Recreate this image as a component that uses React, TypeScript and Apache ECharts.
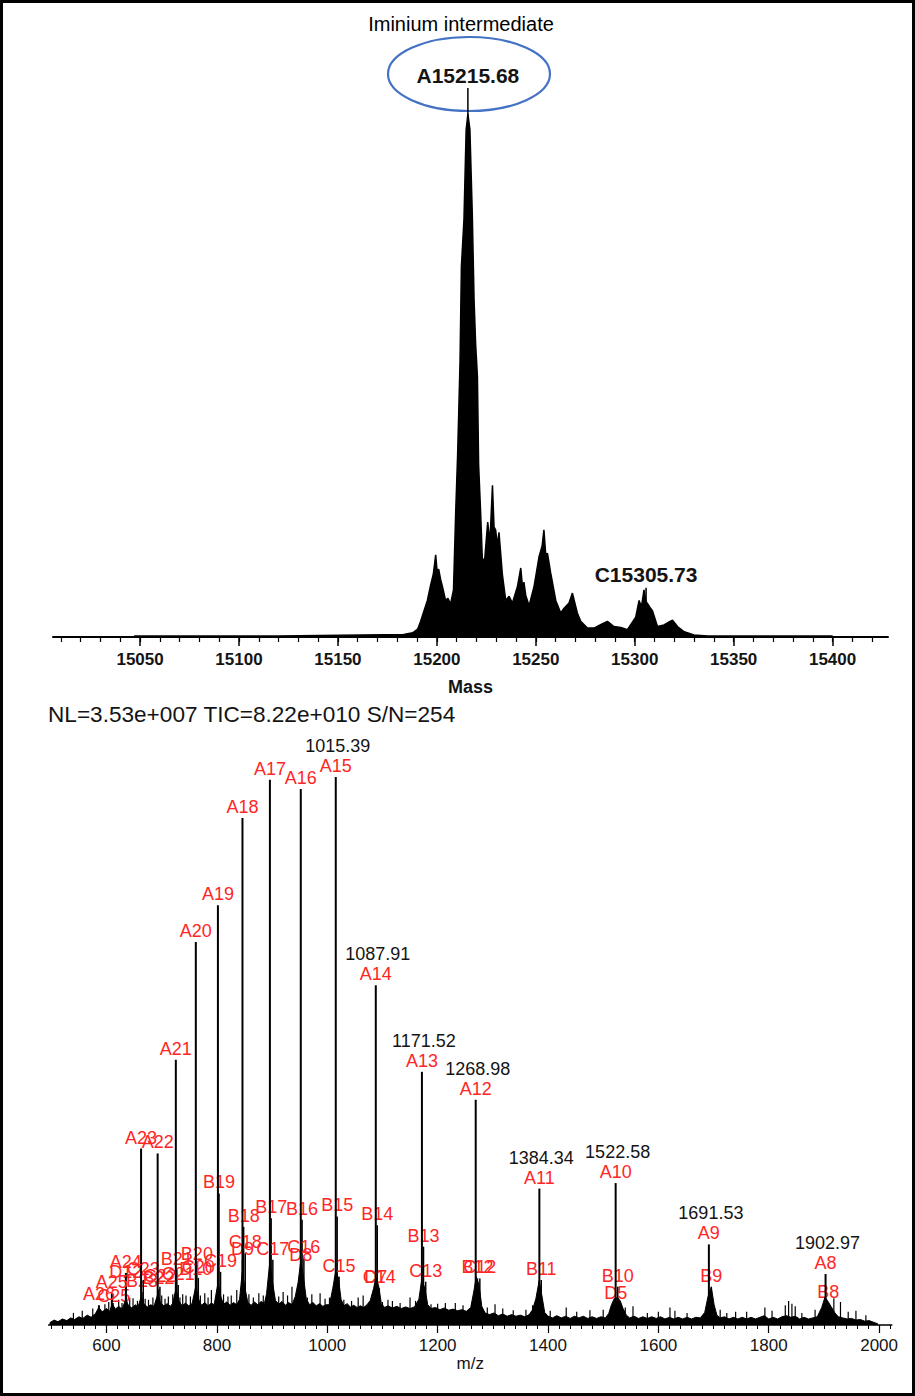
import React, { useEffect, useRef } from 'react';
import * as echarts from 'echarts';

const FONT = '"Liberation Sans", Arial, Helvetica, sans-serif';
const RED = '#ff2626';
const INK = '#141414';

// ---------- Top panel: deconvoluted mass spectrum ----------
const massTickLabels = [15050, 15100, 15150, 15200, 15250, 15300, 15350, 15400];
const massAxisRange = [15006, 15428];
const massMinorStep = 10;

// [mass, relative intensity] (apex of main peak = 100)
const massProfile: [number, number][] = [
  [15047, 0.2], [15120, 0.2], [15183.2, 0.5], [15187.8, 0.8], [15190.3, 1.5], [15191.8, 3],
  [15195.2, 7], [15196.9, 10], [15198.2, 12], [15199.4, 15.7], [15200.2, 12.2], [15200.9, 13], [15201.9, 11], [15203.1, 9.2], [15204.4, 7],
  [15205.6, 7.4], [15206.9, 6.3], [15208.4, 9], [15209.5, 23.7], [15210.5, 35], [15211.7, 52.5], [15212.4, 70.9],
  [15213.7, 79.9], [15214.8, 97], [15215.68, 100], [15216.7, 97.1], [15217.9, 81], [15218.8, 64.5],
  [15219.6, 56], [15220.5, 49.8], [15221.1, 33], [15222.1, 24], [15223.0, 14.7], [15224.2, 15],
  [15225.7, 22], [15226.8, 18], [15228.1, 29], [15228.9, 21], [15229.7, 20.5], [15230.6, 17.5], [15231.4, 20], [15233.1, 12], [15234.8, 7],
  [15236.5, 7.8], [15238.2, 6.5], [15240.7, 9.6], [15242.4, 13.2], [15243.3, 9.5], [15244.0, 10.5], [15244.9, 8], [15246.6, 6],
  [15249.1, 9.6], [15251.6, 15.3], [15253.2, 17.4], [15254.1, 20.5], [15255.0, 15.8], [15255.9, 16], [15257.5, 12.3], [15260.1, 7],
  [15262.6, 4.6], [15264.3, 5.5], [15266.8, 6.5], [15268.5, 8.4], [15271.0, 4.6], [15272.7, 3],
  [15276.1, 1.7], [15279.4, 1.7], [15283.0, 2.4], [15286.2, 3], [15289.5, 2], [15293.0, 1.8], [15296.3, 1.4], [15300.5, 3.8],
  [15302.2, 7], [15303.4, 5.8], [15304.7, 9], [15305.6, 6.9], [15306.4, 6.4], [15307.8, 5.6], [15309.0, 5], [15311.5, 2], [15314.8, 2.3],
  [15317.4, 2.9], [15319.1, 3.2], [15321.6, 2], [15325.0, 1], [15330.0, 0.4], [15336.8, 0.2], [15400, 0.2],
];

const topPeakLabels = ['A15215.68', 'C15305.73'];
const topPeakMass = [15215.68, 15305.73];
const topPeakHeight = [105, 9.4];

// ---------- Bottom panel: m/z spectrum ----------
const mzTickLabels = [600, 800, 1000, 1200, 1400, 1600, 1800, 2000];
const mzAxisRange = [495, 2023];
const mzMinorStep = 20;

const aNames = ['A8', 'A9', 'A10', 'A11', 'A12', 'A13', 'A14', 'A15', 'A16', 'A17', 'A18', 'A19', 'A20', 'A21', 'A22', 'A23', 'A24', 'A25', 'A26'];
const aMz = [1902.97, 1691.53, 1522.58, 1384.34, 1268.98, 1171.52, 1087.91, 1015.39, 951.99, 896.05, 846.32, 801.83, 761.79, 725.56, 692.63, 662.56, 634.99, 609.63, 586.2];
const aInt = [9.3, 14.7, 25.9, 24.9, 41.1, 46.2, 62.0, 100, 97.8, 99.5, 92.5, 76.6, 69.9, 48.4, 31.3, 32.2, 9.5, 5.8, 3.6];
const aMzText = ['1902.97', '1691.53', '1522.58', '1384.34', '1268.98', '1171.52', '1087.91', '1015.39', '', '', '', '', '', '', '', '', '', '', ''];

const minorNames = ['B8', 'B9', 'B10', 'B11', 'B12', 'B13', 'B14', 'B15', 'B16', 'B17', 'B18', 'B19', 'B20', 'B21', 'B22', 'B23',
  'C12', 'C13', 'C14', 'C15', 'C16', 'C17', 'C18', 'C19', 'C20', 'C21', 'C22', 'C23', 'C25',
  'D5', 'D7', 'D8', 'D9', 'D10', 'D12'];
const minorMz = [1907.76, 1695.9, 1526.41, 1387.73, 1272.17, 1174.39, 1090.58, 1017.94, 954.38, 898.3, 848.45, 803.85, 763.71, 727.39, 694.37, 664.22,
  1276.48, 1178.37, 1094.27, 1021.39, 957.62, 901.34, 851.33, 806.57, 766.29, 729.85, 696.72, 666.47, 613.2,
  1522.59, 1087.85, 951.99, 846.33, 761.89, 634.99];
const minorInt = [4.0, 7.0, 7.0, 8.2, 8.5, 14.3, 18.2, 19.8, 19.2, 19.5, 17.9, 24.0, 11.0, 10.1, 6.5, 6.0,
  8.5, 7.9, 6.7, 8.8, 12.2, 11.9, 13.1, 9.7, 8.6, 7.3, 7.0, 8.2, 3.3,
  3.9, 6.7, 10.8, 11.9, 8.2, 7.7];

// noise floor envelope [m/z, relative intensity]
const grass: [number, number][] = [
  [497, 0.4], [505, 0.9], [512, 0.6], [520, 1.1], [528, 0.8], [535, 1.3], [542, 1.0], [550, 1.5], [557, 1.2], [565, 1.8],
  [572, 1.4], [580, 2.1], [586, 3.2], [592, 2.4], [600, 3.0], [606, 2.5], [610, 3.9], [616, 2.9], [622, 3.4], [628, 2.9],
  [635, 4.7], [640, 3.5], [646, 3.1], [652, 3.7], [657, 3.3], [663, 5.2], [668, 3.8], [674, 3.3], [680, 3.7], [686, 3.4],
  [693, 5.7], [698, 4.0], [704, 3.5], [710, 3.9], [716, 3.4], [720, 4.0], [726, 6.7], [731, 4.4], [737, 3.5], [743, 4.0],
  [749, 3.5], [755, 3.9], [762, 7.2], [767, 4.7], [772, 3.6], [778, 4.1], [784, 3.5], [790, 4.0], [795, 3.7], [802, 7.7],
  [807, 5.2], [812, 3.8], [818, 4.2], [824, 3.6], [830, 4.1], [836, 3.7], [841, 4.7], [846, 9.7], [851, 6.7], [856, 4.1],
  [862, 3.6], [868, 4.2], [874, 3.7], [880, 4.3], [886, 3.9], [890, 5.7], [896, 11.7], [901, 7.7], [906, 4.5], [912, 3.8],
  [918, 4.3], [924, 3.6], [930, 4.1], [936, 3.7], [942, 5.2], [947, 7.7], [952, 11.7], [957, 8.7], [962, 4.7], [968, 3.7],
  [974, 4.1], [980, 3.5], [986, 3.9], [992, 3.4], [998, 3.7], [1004, 3.7], [1010, 6.7], [1015, 9.7], [1020, 8.7], [1025, 4.7],
  [1030, 3.5], [1036, 3.9], [1042, 3.3], [1048, 3.6], [1054, 3.2], [1060, 3.5], [1066, 3.2], [1072, 3.7], [1078, 4.5], [1084, 6.7],
  [1088, 8.7], [1093, 7.2], [1098, 3.9], [1104, 3.2], [1110, 3.5], [1118, 3.1], [1126, 3.4], [1134, 3.0], [1142, 3.3], [1150, 3.0],
  [1158, 3.3], [1166, 4.7], [1171, 8.2], [1177, 6.7], [1182, 3.7], [1188, 3.0], [1196, 3.2], [1204, 2.8], [1212, 3.1], [1220, 2.7],
  [1228, 2.9], [1236, 2.6], [1244, 2.8], [1252, 2.5], [1260, 3.2], [1266, 6.4], [1270, 8.8], [1275, 7.3], [1280, 3.4], [1286, 2.2],
  [1294, 1.9], [1302, 2.2], [1310, 1.7], [1318, 2.0], [1326, 1.6], [1334, 1.9], [1342, 1.6], [1350, 1.8], [1358, 1.5], [1366, 1.9],
  [1372, 2.8], [1378, 4.8], [1384, 8.1], [1389, 5.3], [1394, 2.3], [1400, 1.6], [1408, 1.3], [1416, 1.7], [1424, 1.3], [1432, 1.6],
  [1440, 1.2], [1448, 1.6], [1456, 1.3], [1464, 1.6], [1472, 1.2], [1480, 1.5], [1488, 1.2], [1496, 1.5], [1504, 1.3], [1510, 2.1],
  [1515, 3.7], [1520, 4.8], [1526, 5.0], [1531, 4.4], [1536, 3.0], [1542, 1.8], [1548, 1.3], [1556, 1.6], [1564, 1.2], [1572, 1.5],
  [1580, 1.2], [1588, 1.5], [1596, 1.2], [1604, 1.5], [1612, 1.1], [1620, 1.4], [1628, 1.1], [1636, 1.4], [1644, 1.1], [1652, 1.4],
  [1660, 1.1], [1668, 1.4], [1676, 1.3], [1684, 2.3], [1690, 5.2], [1696, 6.9], [1701, 3.7], [1706, 1.8], [1712, 1.3], [1720, 1.5],
  [1728, 1.1], [1736, 1.4], [1744, 1.1], [1752, 1.4], [1760, 1.1], [1768, 1.4], [1776, 1.1], [1784, 1.4], [1792, 1.7], [1800, 1.1],
  [1808, 1.4], [1816, 1.1], [1824, 1.5], [1832, 1.7], [1840, 1.4], [1848, 1.6], [1856, 1.1], [1864, 1.4], [1872, 1.1], [1880, 1.3],
  [1888, 1.5], [1896, 3.2], [1902, 5.1], [1908, 4.2], [1914, 3.2], [1920, 2.2], [1926, 1.5], [1934, 1.3], [1942, 1.1], [1950, 1.2],
  [1958, 0.9], [1966, 1.0], [1974, 0.7], [1982, 0.8], [1990, 0.5], [1998, 0.2],
];

// isolated noise spikes [m/z, relative intensity]
const spikes: [number, number][] = [
  [540, 2.2], [556, 2.6], [575, 3.0], [597, 3.8], [604, 4.2], [612, 4.0], [622, 4.6], [628, 4.0], [642, 5.0], [648, 4.9],
  [656, 4.4], [670, 4.8], [676, 4.6], [684, 5.0], [700, 5.4], [706, 4.8], [712, 5.2], [720, 5.6], [733, 5.0], [738, 5.6],
  [744, 5.4], [752, 5.2], [770, 5.4], [778, 5.8], [784, 5.0], [790, 6.4], [812, 5.6], [820, 5.2], [826, 5.4], [836, 6.4],
  [858, 5.6], [866, 5.0], [876, 5.8], [884, 5.4], [912, 5.2], [920, 6.0], [928, 5.4], [936, 7.0], [964, 5.0], [972, 5.6],
  [987, 5.8], [996, 4.8], [1004, 5.0], [1030, 4.6], [1044, 4.4], [1056, 5.0], [1065, 5.4], [1100, 4.2], [1110, 4.6], [1118, 4.4],
  [1132, 4.0], [1150, 5.0], [1160, 4.4], [1188, 3.8], [1200, 3.9], [1214, 4.0], [1232, 4.0], [1246, 3.6], [1262, 4.2], [1290, 3.2],
  [1304, 3.8], [1318, 3.0], [1337, 2.7], [1360, 2.8], [1372, 3.6], [1404, 2.6], [1433, 3.2], [1452, 2.4], [1476, 2.7], [1500, 2.8],
  [1540, 3.2], [1554, 3.4], [1580, 2.2], [1600, 2.4], [1621, 3.2], [1630, 2.6], [1652, 2.2], [1712, 2.8], [1724, 2.2], [1740, 2.4],
  [1760, 2.4], [1793, 3.2], [1806, 2.6], [1830, 3.6], [1836, 4.4], [1842, 3.9], [1848, 3.4], [1860, 2.2], [1884, 2.8], [1918, 4.9],
  [1930, 4.2], [1944, 2.4], [1958, 2.6], [1976, 1.8],
];

const headerText = 'NL=3.53e+007 TIC=8.22e+010 S/N=254';
const annotationText = 'Iminium intermediate';

function minorTicks(range: number[], step: number) {
  const out: number[] = [];
  for (let v = Math.ceil(range[0] / step) * step; v <= range[1]; v += step) out.push(v);
  return out;
}

type StickOpts = {
  width: number;
  names?: string[];
  nums?: string[];
  nameColor?: string;
  nameSize?: number;
  nameWeight?: string;
  gap?: number;
};

function stickRenderer(o: StickOpts) {
  return (params: any, api: any) => {
    const i = params.dataIndex;
    const x = api.value(0);
    const h = api.value(1);
    const top = api.coord([x, h]);
    const base = api.coord([x, 0]);
    const children: any[] = [
      { type: 'line', shape: { x1: top[0], y1: top[1], x2: base[0], y2: base[1] }, style: { stroke: '#000', lineWidth: o.width } },
    ];
    const gap = o.gap ?? 11;
    const size = o.nameSize ?? 18;
    if (o.names && o.names[i]) {
      children.push({
        type: 'text',
        style: {
          text: o.names[i], x: top[0], y: top[1] - gap, align: 'center', verticalAlign: 'middle',
          fill: o.nameColor ?? RED, fontSize: size, fontFamily: FONT, fontWeight: o.nameWeight ?? 'normal',
        },
      });
    }
    if (o.nums && o.nums[i]) {
      children.push({
        type: 'text',
        style: {
          text: o.nums[i], x: top[0] + 2, y: top[1] - gap - 20, align: 'center', verticalAlign: 'middle',
          fill: INK, fontSize: 18, fontFamily: FONT,
        },
      });
    }
    return { type: 'group', children };
  };
}

const plain = (v: number) => String(v);

export default function App() {
  const ref = useRef<HTMLDivElement>(null);
  useEffect(() => {
    if (!ref.current) return;
    const chart = echarts.init(ref.current, null, { renderer: 'svg' });
    const topMinor = minorTicks(massAxisRange, massMinorStep);
    const botMinor = minorTicks(mzAxisRange, mzMinorStep);
    const hiddenY = { show: false, splitLine: { show: false } };
    const option: any = {
      animation: false,
      backgroundColor: '#ffffff',
      grid: [
        { left: 53, top: 88, width: 835, height: 549 },
        { left: 48.6, top: 777, width: 843.2, height: 548 },
      ],
      xAxis: [
        {
          gridIndex: 0, type: 'value', position: 'bottom', min: massAxisRange[0], max: massAxisRange[1],
          name: 'Mass', nameLocation: 'middle', nameGap: 41,
          nameTextStyle: { fontFamily: FONT, fontWeight: 'bold', fontSize: 18, color: INK },
          axisLine: { lineStyle: { color: '#000', width: 2 } },
          axisTick: { customValues: massTickLabels, length: 9, lineStyle: { color: '#000', width: 1.5 } },
          axisLabel: { customValues: massTickLabels, formatter: plain, margin: 14, fontFamily: FONT, fontWeight: 'bold', fontSize: 17, color: INK },
          splitLine: { show: false },
        },
        {
          gridIndex: 0, type: 'value', position: 'bottom', min: massAxisRange[0], max: massAxisRange[1],
          axisLine: { show: false },
          axisTick: { customValues: topMinor, length: 5, lineStyle: { color: '#000', width: 1.2 } },
          axisLabel: { show: false }, splitLine: { show: false },
        },
        {
          gridIndex: 1, type: 'value', position: 'bottom', min: mzAxisRange[0], max: mzAxisRange[1],
          name: 'm/z', nameLocation: 'middle', nameGap: 28,
          nameTextStyle: { fontFamily: FONT, fontSize: 17, color: INK },
          axisLine: { lineStyle: { color: '#000', width: 1.5 } },
          axisTick: { customValues: mzTickLabels, length: 8, lineStyle: { color: '#000', width: 1.2 } },
          axisLabel: { customValues: mzTickLabels, formatter: plain, margin: 12, fontFamily: FONT, fontSize: 17, color: INK },
          splitLine: { show: false },
        },
        {
          gridIndex: 1, type: 'value', position: 'bottom', min: mzAxisRange[0], max: mzAxisRange[1],
          axisLine: { show: false },
          axisTick: { customValues: botMinor, length: 4, lineStyle: { color: '#000', width: 1 } },
          axisLabel: { show: false }, splitLine: { show: false },
        },
      ],
      yAxis: [
        { gridIndex: 0, type: 'value', min: 0, max: 105, ...hiddenY },
        { gridIndex: 1, type: 'value', min: 0, max: 100, ...hiddenY },
      ],
      series: [
        {
          type: 'line', xAxisIndex: 0, yAxisIndex: 0, data: massProfile, symbol: 'none', silent: true,
          lineStyle: { color: '#000', width: 1.5 }, areaStyle: { color: '#000', opacity: 1 },
        },
        {
          type: 'custom', xAxisIndex: 0, yAxisIndex: 0, silent: true,
          data: topPeakMass.map((m, i) => [m, topPeakHeight[i]]),
          renderItem: stickRenderer({ width: 1.5, names: topPeakLabels, nameColor: INK, nameSize: 21, nameWeight: 'bold', gap: 13 }),
        },
        {
          type: 'line', xAxisIndex: 2, yAxisIndex: 1, data: grass, symbol: 'none', silent: true,
          lineStyle: { color: '#000', width: 1 }, areaStyle: { color: '#000', opacity: 1 },
        },
        {
          type: 'custom', xAxisIndex: 2, yAxisIndex: 1, silent: true, data: spikes,
          renderItem: stickRenderer({ width: 1.2 }),
        },
        {
          type: 'custom', xAxisIndex: 2, yAxisIndex: 1, silent: true,
          data: minorMz.map((m, i) => [m, minorInt[i]]),
          renderItem: stickRenderer({ width: 1.5, names: minorNames }),
        },
        {
          type: 'custom', xAxisIndex: 2, yAxisIndex: 1, silent: true,
          data: aMz.map((m, i) => [m, aInt[i]]),
          renderItem: stickRenderer({ width: 2, names: aNames, nums: aMzText }),
        },
      ],
      graphic: [
        { type: 'rect', shape: { x: 1.5, y: 1.5, width: 912, height: 1393 }, style: { fill: 'none', stroke: '#000', lineWidth: 3 }, silent: true },
        { type: 'text', x: 461, y: 24, style: { text: annotationText, align: 'center', verticalAlign: 'middle', fontSize: 20, fontFamily: FONT, fill: '#000' } },
        { type: 'ellipse', shape: { cx: 469, cy: 74, rx: 81, ry: 37 }, style: { fill: 'none', stroke: '#4472c4', lineWidth: 2.2 } },
        { type: 'text', x: 48, y: 714, style: { text: headerText, align: 'left', verticalAlign: 'middle', fontSize: 22.6, fontFamily: FONT, fill: INK } },
      ],
    };
    chart.setOption(option);
    return () => chart.dispose();
  }, []);
  return <div ref={ref} style={{ position: 'absolute', left: 0, top: 0, width: 915, height: 1396, background: '#fff' }} />;
}
